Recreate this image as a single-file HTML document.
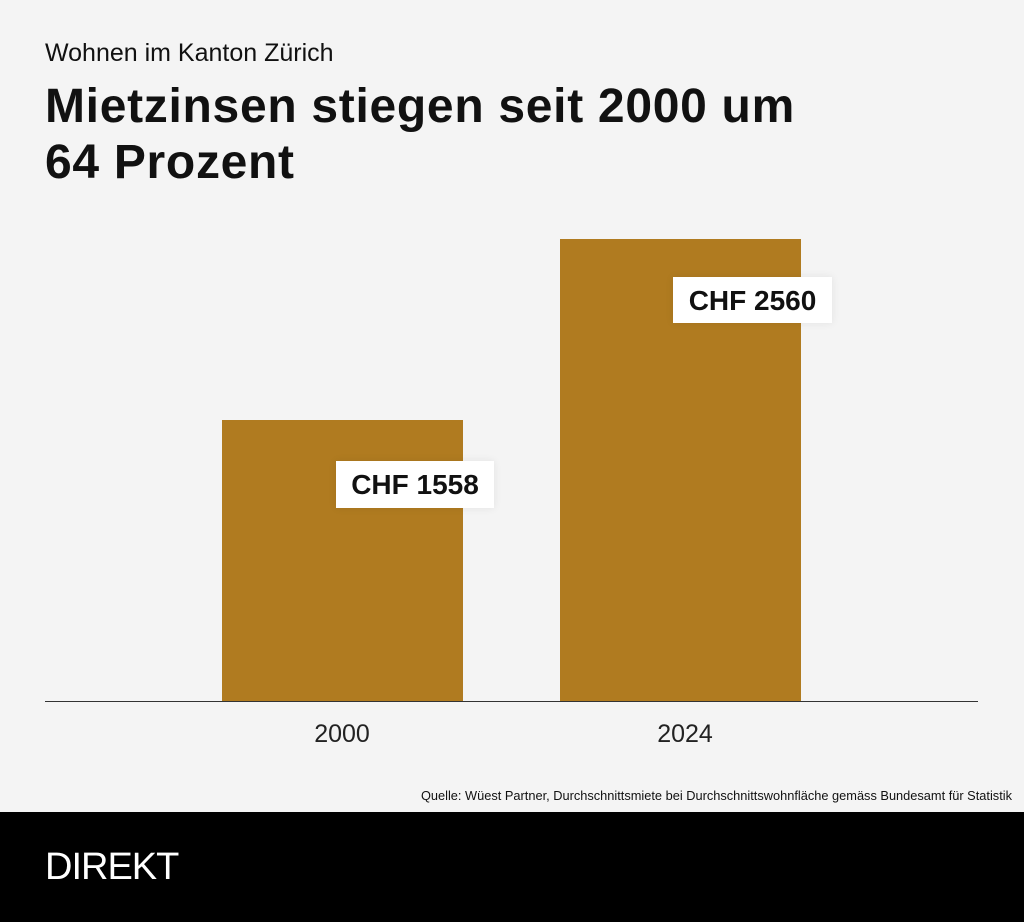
<!DOCTYPE html>
<html><head><meta charset="utf-8"><style>
body{margin:0;width:1024px;height:922px;background:#f4f4f4;font-family:"Liberation Sans",sans-serif;position:relative;overflow:hidden}
div{position:absolute}
.bar{background:#b07b20}
.lab{background:#fff;font-weight:bold;font-size:28px;color:#111;text-align:center;line-height:47px;box-shadow:0 0 8px rgba(0,0,0,0.08)}
.yr{font-size:25px;color:#222;width:120px;text-align:center}
</style></head><body>
<div style="left:45px;top:39px;font-size:25px;color:#111">Wohnen im Kanton Zürich</div>
<div style="left:45px;top:79px;font-size:48px;font-weight:bold;color:#111;line-height:56px;letter-spacing:0.7px;white-space:nowrap">Mietzinsen stiegen seit 2000 um<br>64 Prozent</div>
<div class="bar" style="left:222px;top:420px;width:241px;height:282px"></div>
<div class="bar" style="left:560px;top:239px;width:241px;height:463px"></div>
<div style="left:45px;top:701px;width:933px;height:1px;background:#333"></div>
<div class="lab" style="left:336px;top:461px;width:158px;height:47px">CHF 1558</div>
<div class="lab" style="left:673px;top:277px;width:159px;height:46px">CHF 2560</div>
<div class="yr" style="left:282px;top:720px">2000</div>
<div class="yr" style="left:625px;top:720px">2024</div>
<div style="right:12px;top:788px;font-size:12.8px;color:#111;white-space:nowrap">Quelle: Wüest Partner, Durchschnittsmiete bei Durchschnittswohnfläche gemäss Bundesamt für Statistik</div>
<div style="left:0;top:812px;width:1024px;height:110px;background:#000"></div>
<div style="left:45px;top:846px;font-size:38px;color:#fff;letter-spacing:-1px">DIREKT</div>
</body></html>
